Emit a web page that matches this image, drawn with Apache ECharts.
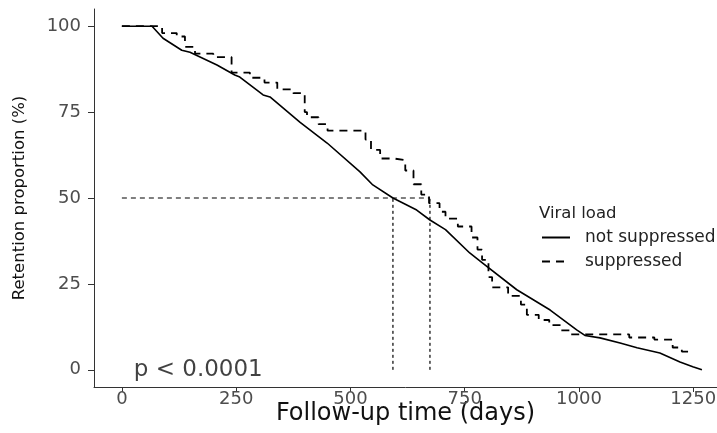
<!DOCTYPE html>
<html>
<head>
<meta charset="utf-8">
<script src="https://cdn.jsdelivr.net/npm/echarts@6/dist/echarts.min.js"></script>
<style>
html,body{margin:0;padding:0;background:#fff;}
#chart{width:717px;height:433px;}
</style>
</head>
<body>
<div id="chart"></div>
<script>
// ---- data ----
var xTicks = [0, 250, 500, 750, 1000, 1250];
var yTicks = [0, 25, 50, 75, 100];

var seriesNames = ['not suppressed', 'suppressed'];

// not suppressed (solid) : days / retention %
var notSuppDays = [0, 66, 90, 131, 149, 208, 247, 258, 309, 324, 390, 449, 521, 549, 593, 645, 674, 708, 761, 790, 864, 937, 995, 1013, 1046, 1090, 1127, 1177, 1221, 1249, 1269];
var notSuppPct  = [100, 100, 96.5, 93, 92.4, 88.7, 85.8, 85.2, 80, 79.4, 72, 66, 57.6, 53.8, 50, 46.5, 43.6, 40.8, 34, 31, 23.3, 17.4, 11.6, 10, 9.3, 7.8, 6.4, 4.9, 2.3, 0.9, 0];

// suppressed (dashed, step function): start day of each level / retention %
var suppDays = [0, 88, 120, 138, 160, 200, 240, 280, 312, 340, 375, 400, 405, 430, 450, 533, 545, 565, 595, 620, 638, 655, 672, 695, 708, 735, 765, 778, 788, 802, 810, 845, 873, 886, 912, 935, 960, 980, 1110, 1165, 1205, 1225, 1243];
var suppPct  = [100, 98, 97, 94, 92, 91, 86.5, 85, 83.6, 81.6, 80.5, 75, 73.5, 71.5, 69.6, 67, 64, 61.5, 61, 58, 54, 51, 48.5, 46, 44, 41.7, 38.5, 35, 32, 27, 24, 21.5, 19, 16, 14.5, 13, 11.5, 10.3, 9.4, 8.8, 6.5, 5.3, 4.4];

var medianDays = [593, 674];
var medianPct = 50;

var pvalText = 'p < 0.0001';
var pvalPos = [26, 0];

var xTitle = 'Follow-up time (days)';
var yTitle = 'Retention proportion (%)';
var legendTitle = 'Viral load';

function zip(a, b) { return a.map(function (v, i) { return [v, b[i]]; }); }

var FONT = 'DejaVu Sans';
var chart = echarts.init(document.getElementById('chart'), null, {renderer: 'canvas'});

var option = {
  animation: false,
  backgroundColor: '#ffffff',
  textStyle: {fontFamily: FONT},
  title: {
    text: legendTitle,
    left: 539, top: 205,
    padding: 0,
    textStyle: {fontFamily: FONT, fontSize: 16.5, fontWeight: 'normal', color: '#222'}
  },
  legend: {
    data: seriesNames,
    orient: 'vertical',
    left: 541, top: 229,
    padding: 0,
    itemWidth: 28, itemHeight: 14, itemGap: 7,
    itemStyle: {opacity: 0},
    textStyle: {fontFamily: FONT, fontSize: 17, color: '#222', padding: [0, 0, 0, 10]}
  },
  grid: {left: 94, right: 0, top: 9, bottom: 46, containLabel: false, outerBoundsMode: 'none'},
  xAxis: {
    type: 'value', min: -61, max: 1302,
    name: xTitle, nameLocation: 'middle', nameGap: 15, nameMoveOverlap: false,
    nameTextStyle: {fontFamily: FONT, fontSize: 24, color: '#111'},
    axisLine: {show: true, onZero: false, lineStyle: {color: '#333', width: 1}},
    axisTick: {show: true, length: 5, customValues: xTicks, lineStyle: {color: '#333'}},
    axisLabel: {customValues: xTicks, margin: 3, fontFamily: FONT, fontSize: 18, color: '#4d4d4d',
                formatter: function (v) { return String(v); }},
    splitLine: {show: false}
  },
  yAxis: {
    type: 'value', min: -5, max: 105,
    name: yTitle, nameLocation: 'middle', nameGap: 66, nameRotate: 90, nameMoveOverlap: false,
    nameTextStyle: {fontFamily: FONT, fontSize: 16.5, color: '#111'},
    axisLine: {show: true, onZero: false, lineStyle: {color: '#333', width: 1}},
    axisTick: {show: true, length: 6, customValues: yTicks, lineStyle: {color: '#333'}},
    axisLabel: {customValues: yTicks, margin: 13, fontFamily: FONT, fontSize: 18, color: '#4d4d4d',
                formatter: function (v) { return String(v); }},
    splitLine: {show: false}
  },
  series: [
    {
      name: seriesNames[0], type: 'line', symbol: 'none',
      data: zip(notSuppDays, notSuppPct),
      lineStyle: {color: '#000', width: 1.6, type: 'solid'},
      itemStyle: {color: '#000'}, z: 5
    },
    {
      name: seriesNames[1], type: 'line', symbol: 'none', step: 'end',
      data: zip(suppDays, suppPct),
      lineStyle: {color: '#000', width: 1.8, type: [8, 6]},
      itemStyle: {color: '#000'}, z: 5
    },
    {
      name: 'median-h', type: 'line', symbol: 'none', silent: true,
      data: [[0, medianPct], [medianDays[1], medianPct]],
      lineStyle: {color: '#000', width: 1.2, type: [5, 4]}, z: 3
    },
    {
      name: 'median-v1', type: 'line', symbol: 'none', silent: true,
      data: [[medianDays[0], 0], [medianDays[0], medianPct]],
      lineStyle: {color: '#000', width: 1.2, type: [3, 3]}, z: 3
    },
    {
      name: 'median-v2', type: 'line', symbol: 'none', silent: true,
      data: [[medianDays[1], 0], [medianDays[1], medianPct]],
      lineStyle: {color: '#000', width: 1.2, type: [3, 3]}, z: 3
    },
    {
      name: 'pval', type: 'scatter', symbolSize: 0, silent: true,
      data: [pvalPos],
      label: {show: true, position: 'right', distance: 0, formatter: pvalText,
              fontFamily: FONT, fontSize: 23, color: '#111'}
    }
  ]
};
chart.setOption(option);
</script>
</body>
</html>
